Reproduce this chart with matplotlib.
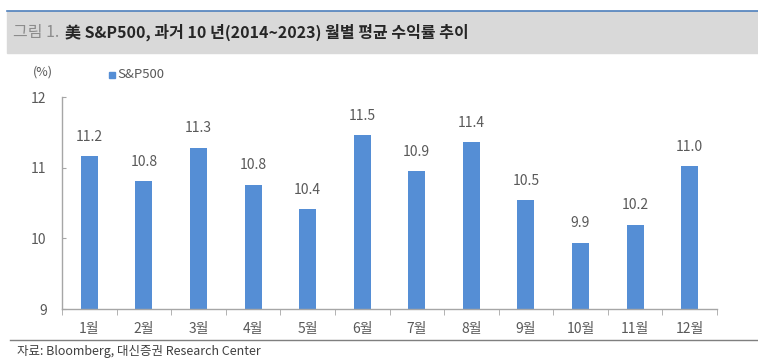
import matplotlib
matplotlib.use("Agg")
import matplotlib.pyplot as plt
from matplotlib.patches import Rectangle
from matplotlib.lines import Line2D

plt.rcParams['font.family'] = ['Noto Sans CJK KR', 'DejaVu Sans']

months = ["1월", "2월", "3월", "4월", "5월", "6월", "7월", "8월", "9월", "10월", "11월", "12월"]
sp500 = [11.16, 10.81, 11.28, 10.76, 10.41, 11.46, 10.95, 11.36, 10.54, 9.94, 10.19, 11.02]

bar_color = "#558ed5"
grey = "#595959"

fig = plt.figure(figsize=(7.58, 3.64), dpi=100)

# title band
fig.patches.append(Rectangle((7 / 758, 1 - 53 / 364), 1 - 7 / 758, 42 / 364,
                             transform=fig.transFigure, color="#d9d9d9", zorder=0))
fig.lines.append(Line2D([7 / 758, 1], [1 - 11 / 364, 1 - 11 / 364],
                        transform=fig.transFigure, color="#4f81bd", lw=1.2))
t1 = fig.text(13 / 758, 1 - 32 / 364, "그림 1.", fontsize=11.5, color="#8c8c8c",
              va="center", ha="left")
fig.canvas.draw()
x_title = t1.get_window_extent().x1 / fig.bbox.width + 6 / 758
fig.text(x_title, 1 - 32 / 364, "美 S&P500, 과거 10 년(2014~2023) 월별 평균 수익률 추이",
         fontsize=11.5, fontweight="bold", color="#262626", va="center", ha="left")

ax = fig.add_axes([62 / 758, 1 - 309 / 364, (717 - 62) / 758, (309 - 97) / 364])

x = range(len(months))
ax.bar(x, sp500, width=0.31, color=bar_color, zorder=2)
for i, v in enumerate(sp500):
    ax.annotate(f"{v:.1f}", (i, v), xytext=(0, 9), textcoords="offset points",
                ha="center", va="bottom", fontsize=10, color=grey)

ax.set_ylim(9, 12)
ax.set_xlim(-0.5, len(months) - 0.5)
ax.set_yticks([9, 10, 11, 12])
ax.set_xticks(list(x))
ax.set_xticklabels(months)
ax.set_xticks([i + 0.5 for i in range(-1, len(months))], minor=True)
ax.tick_params(axis="x", which="major", length=0, pad=9, labelsize=10, labelcolor=grey)
ax.tick_params(axis="x", which="minor", length=4, direction="out", color="#a6a6a6")
ax.tick_params(axis="y", length=3, direction="in", color="#a6a6a6", pad=11,
               labelsize=10, labelcolor=grey)
for s in ["top", "right"]:
    ax.spines[s].set_visible(False)
for s in ["left", "bottom"]:
    ax.spines[s].set_color("#a6a6a6")
    ax.spines[s].set_linewidth(1)

fig.text(33 / 758, 1 - 72 / 364, "(%)", fontsize=9, color=grey, va="center", ha="left")
fig.patches.append(Rectangle((109 / 758, 1 - 78 / 364), 6 / 758, 6 / 364,
                             transform=fig.transFigure, color=bar_color))
fig.text(117 / 758, 1 - 75 / 364, "S&P500", fontsize=9.5, color=grey, va="center", ha="left")

# footer
fig.lines.append(Line2D([10 / 758, 1], [1 - 340 / 364, 1 - 340 / 364],
                        transform=fig.transFigure, color="#7f7f7f", lw=1))
fig.text(17 / 758, 1 - 351 / 364, "자료: Bloomberg, 대신증권 Research Center",
         fontsize=9, color="#404040", va="center", ha="left")

fig.savefig("out.png", dpi=100)
